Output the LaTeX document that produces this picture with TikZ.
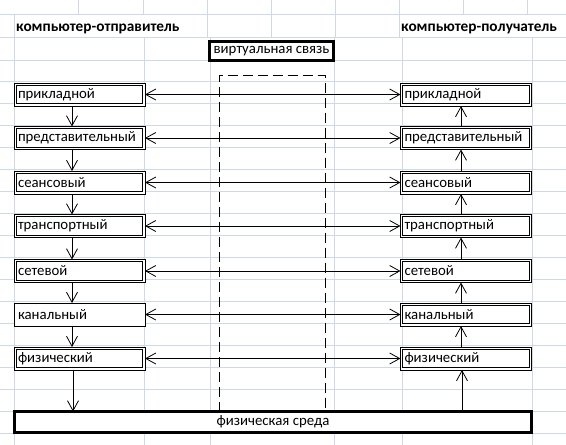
\documentclass[tikz,border=0pt]{standalone}
\usepackage{fontspec}
\setmainfont{Carlito}
\usetikzlibrary{arrows.meta,calc}
\definecolor{gridc}{RGB}{208,215,229}
\begin{document}
\begin{tikzpicture}[x=1pt,y=-1pt,
  gridline/.style={draw=gridc, line width=0.9pt},
  txt/.style={font=\fontsize{14.8}{16}\selectfont},
  plainlayer/.style={txt, draw, line width=0.9pt, fill=white,
    minimum height=23pt, text width=123pt, inner xsep=4pt, inner ysep=0pt, align=left, outer sep=0pt},
  layer/.style={plainlayer,
    path picture={\draw[line width=0.9pt]
      ([shift={(2.3pt,-2.3pt)}]path picture bounding box.north west) rectangle
      ([shift={(-2.3pt,2.3pt)}]path picture bounding box.south east);}},
  thickbox/.style={txt, draw, line width=3pt, fill=white, inner sep=0pt, outer sep=0pt},
  hdr/.style={font=\fontsize{15.3}{16}\selectfont\bfseries, inner sep=0pt, anchor=base west},
  conn/.style={line width=0.8pt, -{Straight Barb[length=10pt,width=11pt]}},
  both/.style={line width=0.8pt, {Straight Barb[length=10pt,width=11pt]}-{Straight Barb[length=10pt,width=11pt]}},
  dashline/.style={line width=1pt, dash pattern=on 10pt off 5pt}
]
\useasboundingbox (0,0) rectangle (566,445);
\fill[white] (0,0) rectangle (566,445);

% spreadsheet grid
\foreach \y in {14,37} \draw[gridline] (0,\y) -- (566,\y);
\foreach \k in {0,...,17} \draw[gridline] (0,{60+21.94*\k}) -- (566,{60+21.94*\k});
\foreach \x in {78,143,207,271,335,399,463,527} \draw[gridline] (\x,0) -- (\x,14);
\foreach \x in {14,207,271,335,399} \draw[gridline] (\x,14) -- (\x,37);
\foreach \x in {14,144,210,334,402,532} \draw[gridline] (\x,37) -- (\x,445);

% headers
\node[hdr] (h1) at (16,31.5) {компьютер-отправитель};
\node[hdr] (h2) at (401,31.5) {компьютер-получатель};

% virtual link
\node[thickbox, minimum width=124pt, minimum height=19pt] (virt) at (271.5,51) {виртуальная связь};

% physical medium
\node[thickbox, minimum width=517pt, minimum height=21pt] (med) at (273,422) {физическая среда};

% left stack
\node[layer] (l1) at (79.5,94.5) {прикладной};
\node[layer] (l2) at (79.5,138) {представительный};
\node[layer] (l3) at (79.5,182.5) {сеансовый};
\node[layer] (l4) at (79.5,226) {транспортный};
\node[layer] (l5) at (79.5,271) {сетевой};
\node[plainlayer] (l6) at (79.5,314.5) {канальный};
\node[layer] (l7) at (79.5,358.5) {физический};

% right stack
\node[layer] (r1) at (466,94.5) {прикладной};
\node[layer] (r2) at (466,138) {представительный};
\node[layer] (r3) at (466,182.5) {сеансовый};
\node[layer] (r4) at (466,226) {транспортный};
\node[layer] (r5) at (466,271) {сетевой};
\node[layer] (r6) at (466,314.5) {канальный};
\node[layer] (r7) at (466,358.5) {физический};

% dashed virtual channel
\coordinate (d1) at (219,75);
\coordinate (d2) at (325,75);
\draw[dashline] (med.north -| d1) -- (d1) -- (d2) -- (med.north -| d2);

% vertical arrows
\coordinate (lx) at (72,0);
\coordinate (lx2) at (73,0);
\coordinate (rx) at (461,0);
\coordinate (rx2) at (462,0);
\draw[conn] (l1.south -| lx) -- (l2.north -| lx);
\draw[conn] (l2.south -| lx) -- (l3.north -| lx);
\draw[conn] (l3.south -| lx) -- (l4.north -| lx);
\draw[conn] (l4.south -| lx) -- (l5.north -| lx);
\draw[conn] (l5.south -| lx) -- (l6.north -| lx);
\draw[conn] (l6.south -| lx) -- (l7.north -| lx);
\draw[conn] (l7.south -| lx2) -- (med.north -| lx2);
\draw[conn] (r2.north -| rx) -- (r1.south -| rx);
\draw[conn] (r3.north -| rx) -- (r2.south -| rx);
\draw[conn] (r4.north -| rx) -- (r3.south -| rx);
\draw[conn] (r5.north -| rx) -- (r4.south -| rx);
\draw[conn] (r6.north -| rx) -- (r5.south -| rx);
\draw[conn] (r7.north -| rx) -- (r6.south -| rx);
\draw[conn] (med.north -| rx2) -- (r7.south -| rx2);

% horizontal peer arrows
\draw[both] (l1.east) -- (r1.west);
\draw[both] (l2.east) -- (r2.west);
\draw[both] (l3.east) -- (r3.west);
\draw[both] (l4.east) -- (r4.west);
\draw[both] (l5.east) -- (r5.west);
\draw[both] (l6.east) -- (r6.west);
\draw[both] (l7.east) -- (r7.west);
\end{tikzpicture}
\end{document}
